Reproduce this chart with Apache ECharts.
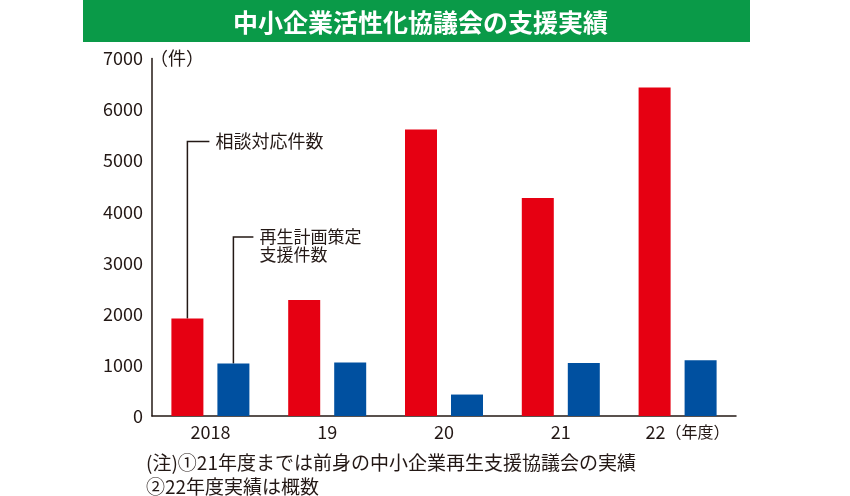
<!DOCTYPE html>
<html>
<head>
<meta charset="utf-8">
<script src="https://cdn.jsdelivr.net/npm/echarts@6/dist/echarts.min.js"></script>
<style>
  html, body { margin: 0; padding: 0; background: #fff; }
  #chart { width: 850px; height: 496px; }
</style>
</head>
<body>
<div id="chart"></div>
<script>
// 年度
var years = ['2018', '19', '20', '21', '22'];
// 相談対応件数
var consultCounts = [1910, 2270, 5610, 4270, 6430];
// 再生計画策定支援件数
var planCounts = [1030, 1050, 420, 1040, 1090];
// 縦軸目盛
var yTicks = [0, 1000, 2000, 3000, 4000, 5000, 6000, 7000];

var FONT = '"Noto Sans CJK JP", "Noto Sans", sans-serif';
var BAR_W = 32, BAR_GAP = 14;

(function () {
  var myChart = echarts.init(document.getElementById('chart'));

  var option = {
    animation: false,
    textStyle: { fontFamily: FONT },
    title: {
      text: '中小企業活性化協議会の支援実績',
      left: 228,
      top: 5,
      textStyle: { color: '#fff', fontSize: 25, fontWeight: 'bold', fontFamily: FONT }
    },
    grid: {
      left: 152,
      right: 114,
      top: 58.5,
      bottom: 80,
      containLabel: false
    },
    xAxis: {
      type: 'category',
      data: years,
      axisTick: { show: false },
      axisLine: { lineStyle: { color: '#231815', width: 1.5 } },
      axisLabel: {
        interval: 0,
        color: '#231815', fontSize: 18, margin: 7, fontFamily: FONT,
        // 最後の年度に単位を付ける
        formatter: function (v, i) {
          return i === years.length - 1 ? '{y|' + v + '}{u|（年度）}' : v;
        },
        rich: {
          y: { fontSize: 18, color: '#231815', fontFamily: FONT, padding: [0, 0, 0, 20] },
          u: { fontSize: 16, color: '#231815', fontFamily: FONT }
        }
      }
    },
    yAxis: {
      type: 'value',
      min: yTicks[0],
      max: yTicks[yTicks.length - 1],
      interval: 1000,
      axisLine: { show: true, lineStyle: { color: '#231815', width: 1.5 } },
      axisTick: { show: false },
      splitLine: { show: false },
      axisLabel: {
        color: '#231815', fontSize: 18, margin: 9, fontFamily: FONT,
        formatter: function (v) { return String(v); }
      }
    },
    series: [
      {
        name: '相談対応件数',
        type: 'bar',
        data: consultCounts,
        barWidth: BAR_W,
        barGap: (BAR_GAP / BAR_W * 100) + '%',
        itemStyle: { color: '#E60012' }
      },
      {
        name: '再生計画策定支援件数',
        type: 'bar',
        data: planCounts,
        barWidth: BAR_W,
        itemStyle: { color: '#0050A0' }
      }
    ]
  };

  myChart.setOption(option);

  // 引き出し線と注記
  var off = (BAR_W + BAR_GAP) / 2;
  var redTop = myChart.convertToPixel({ seriesIndex: 0 }, [0, consultCounts[0]]);
  var blueTop = myChart.convertToPixel({ seriesIndex: 1 }, [0, planCounts[0]]);
  var redX = redTop[0] - off, blueX = blueTop[0] + off;
  var redLabelY = 141.5, blueLabelY = 237;

  myChart.setOption({
    graphic: [
      { type: 'rect', z: -1, shape: { x: 83, y: 0, width: 667, height: 42 }, style: { fill: '#0A9A48' } },
      { type: 'polyline', shape: { points: [[redX, redTop[1]], [redX, redLabelY], [redX + 22, redLabelY]] },
        style: { stroke: '#231815', lineWidth: 1.5, fill: null } },
      { type: 'text', x: redX + 28, y: redLabelY, style: { text: '相談対応件数', font: '18px ' + FONT, fill: '#231815', textVerticalAlign: 'middle' } },
      { type: 'polyline', shape: { points: [[blueX, blueTop[1]], [blueX, blueLabelY], [blueX + 20, blueLabelY]] },
        style: { stroke: '#231815', lineWidth: 1.5, fill: null } },
      { type: 'text', x: blueX + 26, y: blueLabelY - 9, style: { text: '再生計画策定\n支援件数', font: '17px ' + FONT, lineHeight: 18, fill: '#231815' } },
      { type: 'text', x: 150, y: 58.5, style: { text: '（件）', font: '18px ' + FONT, fill: '#231815', textVerticalAlign: 'middle' } },
      { type: 'text', x: 146, y: 463, style: { text: '(注)①21年度までは前身の中小企業再生支援協議会の実績', font: '19px ' + FONT, fill: '#231815', textVerticalAlign: 'middle' } },
      { type: 'text', x: 146, y: 487, style: { text: '②22年度実績は概数', font: '19px ' + FONT, fill: '#231815', textVerticalAlign: 'middle' } }
    ]
  });

  window.addEventListener('resize', function () {
    myChart.resize();
  });
})();
</script>
</body>
</html>
